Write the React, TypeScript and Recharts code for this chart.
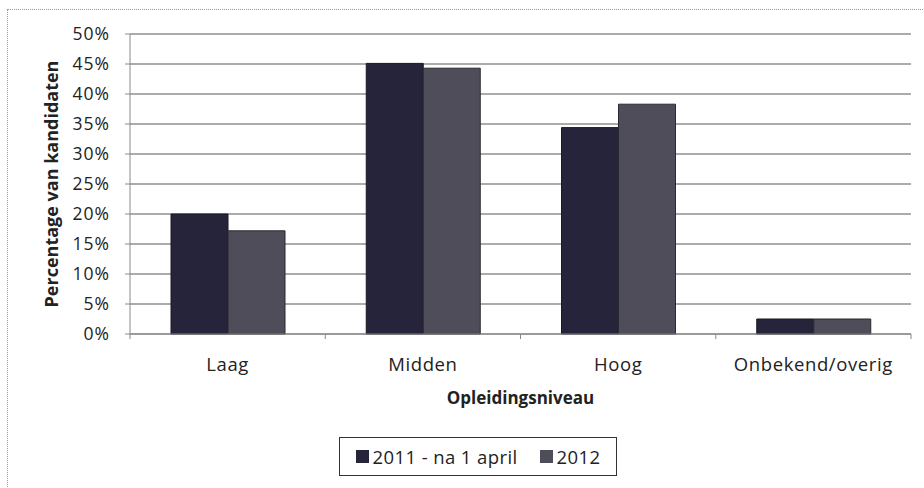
import React from 'react';
import { BarChart, Bar, XAxis, YAxis, CartesianGrid, Legend } from 'recharts';

const categories = ['Laag', 'Midden', 'Hoog', 'Onbekend/overig'];
const series2011 = [20.0, 45.1, 34.4, 2.5];
const series2012 = [17.2, 44.3, 38.3, 2.5];
const yTicks = [0, 5, 10, 15, 20, 25, 30, 35, 40, 45, 50];
const seriesNames = ['2011 - na 1 april', '2012'];
const seriesColors = ['#26243a', '#4f4d5a'];

const data = categories.map((c, i) => ({ name: c, a: series2011[i], b: series2012[i] }));

const W = 924;
const H = 488;
const MARGIN = { top: 34, right: 13, left: 0, bottom: 84 };
const YW = 130;
const FONT = '"Open Sans", sans-serif';
const band = (W - MARGIN.left - MARGIN.right - YW) / categories.length;

const CatTick = (props: any) => {
  const { x, y, payload } = props;
  const isLast = payload.index === categories.length - 1;
  return (
    <g>
      <line x1={x - band / 2} x2={x - band / 2} y1={y} y2={y + 5} stroke="#888" />
      {isLast && <line x1={x + band / 2} x2={x + band / 2} y1={y} y2={y + 5} stroke="#888" />}
      <text x={x} y={y + 37} textAnchor="middle" fontSize={18.5} letterSpacing={0.6} fontFamily={FONT} fill="#222">
        {payload.value}
      </text>
    </g>
  );
};

const LegendContent = () => (
  <div
    style={{
      border: '1.5px solid #333',
      width: 278,
      height: 39,
      boxSizing: 'border-box',
      display: 'flex',
      alignItems: 'center',
      justifyContent: 'center',
      fontFamily: FONT,
      fontSize: 18.5,
      letterSpacing: 0.4,
      color: '#222',
      background: '#fff',
    }}
  >
    {seriesNames.map((n, i) => (
      <span key={n} style={{ display: 'flex', alignItems: 'center', marginRight: i === 0 ? 22 : 0 }}>
        <span style={{ width: 13, height: 13, background: seriesColors[i], display: 'inline-block', marginRight: 4 }} />
        {n}
      </span>
    ))}
  </div>
);

export default function App() {
  return (
    <div style={{ position: 'absolute', left: 0, top: 0, width: W, height: H, background: '#fff' }}>
      <div
        style={{
          position: 'absolute',
          left: 7,
          top: 9,
          width: W - 7,
          height: H - 9,
          borderLeft: '1px dotted #999',
          borderTop: '1px dotted #999',
        }}
      />
      <BarChart
        width={W}
        height={H}
        data={data}
        margin={MARGIN}
        barCategoryGap="21%"
        barGap={0}
        style={{ position: 'absolute', left: 0, top: 0 }}
      >
        <CartesianGrid vertical={false} stroke="#8f8f8f" strokeWidth={1.5} />
        <XAxis
          dataKey="name"
          height={70}
          tickLine={false}
          tickMargin={0}
          tickSize={0}
          stroke="#8a8a8a"
          tick={<CatTick />}
          interval={0}
          label={{
            value: 'Opleidingsniveau',
            position: 'insideBottom',
            offset: 0,
            fontSize: 17,
            fontWeight: 'bold',
            fontFamily: FONT,
            fill: '#222',
          }}
        />
        <YAxis
          width={YW}
          domain={[0, 50]}
          ticks={yTicks}
          interval={0}
          tickFormatter={(v: number) => `${v}%`}
          tickSize={5}
          tickMargin={15}
          stroke="#8a8a8a"
          tick={{ fontSize: 17.5, fontFamily: FONT, fill: '#222', letterSpacing: 1 }}
          label={{
            value: 'Percentage van kandidaten',
            angle: -90,
            position: 'center',
            dx: -13,
            fontSize: 18,
            fontWeight: 'bold',
            fontFamily: FONT,
            fill: '#222',
          }}
        />
        <Legend
          layout="horizontal"
          align="center"
          verticalAlign="middle"
          wrapperStyle={{ left: 339, top: 437, width: 278 }}
          content={<LegendContent />}
        />
        <Bar dataKey="a" name={seriesNames[0]} fill={seriesColors[0]} stroke="#1a1a22" isAnimationActive={false} />
        <Bar dataKey="b" name={seriesNames[1]} fill={seriesColors[1]} stroke="#2a2a30" isAnimationActive={false} />
      </BarChart>
    </div>
  );
}
